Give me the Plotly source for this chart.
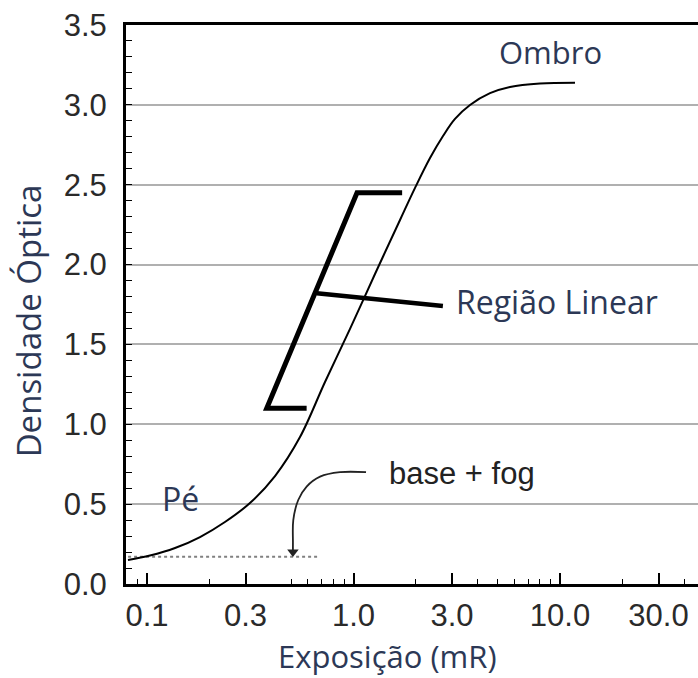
import math
import plotly.graph_objects as go

# ---- data ----
exposure = [0.0809, 0.1034, 0.1367, 0.1806, 0.2385, 0.3152, 0.4168, 0.5507, 0.7278,
            0.9618, 1.2708, 1.6797, 1.986, 2.347, 2.713, 3.101, 3.666, 4.581, 5.727,
            8.000, 11.82]
density = [0.150, 0.178, 0.225, 0.294, 0.388, 0.507, 0.676, 0.920, 1.265,
           1.597, 1.941, 2.279, 2.480, 2.667, 2.805, 2.912, 2.999, 3.073, 3.112,
           3.134, 3.139]

# bracket marking the linear region
bracket_x = [1.72, 1.04, 0.38, 0.593]
bracket_y = [2.45, 2.45, 1.10, 1.10]
pointer_x = [0.664, 2.71]
pointer_y = [1.82, 1.74]

# base + fog level
fog_x = [0.081, 0.689]
fog_y = [0.17, 0.17]

# curved arrow towards base + fog
arrow_x = [1.15, 0.86, 0.689, 0.593, 0.54, 0.511, 0.509, 0.509]
arrow_y = [0.70, 0.70, 0.672, 0.61, 0.526, 0.40, 0.26, 0.19]

x_ticks = [0.1, 0.3, 1.0, 3.0, 10.0, 30.0]
x_ticktext = ["0.1", "0.3", "1.0", "3.0", "10.0", "30.0"]
x_minor = [0.09, 0.2, 0.5, 0.6, 0.7, 0.8, 0.9, 2, 4, 5, 6, 7, 8, 9, 20, 40]
y_ticks = [0.0, 0.5, 1.0, 1.5, 2.0, 2.5, 3.0, 3.5]
y_ticktext = ["0.0", "0.5", "1.0", "1.5", "2.0", "2.5", "3.0", "3.5"]

# gaps in the grid lines (y, x_from, x_to)
grid_gaps = [(0.5, 0.1, 0.233), (2.0, 0.563, 0.995), (1.5, 0.386, 0.63)]

TITLE_COLOR = "#2c3856"
TEXT_FONT = "Open Sans"

fig = go.Figure()

fig.add_trace(go.Scatter(x=fog_x, y=fog_y, mode="lines",
                         line=dict(color="#808080", width=2, dash="dot"),
                         hoverinfo="skip"))
fig.add_trace(go.Scatter(x=exposure, y=density, mode="lines", line_shape="spline",
                         line=dict(color="black", width=2), hoverinfo="skip"))
fig.add_trace(go.Scatter(x=bracket_x, y=bracket_y, mode="lines",
                         line=dict(color="black", width=5), hoverinfo="skip"))
fig.add_trace(go.Scatter(x=pointer_x, y=pointer_y, mode="lines",
                         line=dict(color="black", width=4.5), hoverinfo="skip"))
fig.add_trace(go.Scatter(x=arrow_x, y=arrow_y, mode="lines", line_shape="spline",
                         line=dict(color="#222222", width=1.8), hoverinfo="skip"))
fig.add_trace(go.Scatter(x=[arrow_x[-1]], y=[fog_y[0] + 0.03], mode="markers",
                         marker=dict(symbol="triangle-down", size=10, color="#222222"),
                         hoverinfo="skip"))

for gy, gx0, gx1 in grid_gaps:
    fig.add_shape(type="rect", xref="x", yref="y", x0=math.log10(gx0), x1=math.log10(gx1),
                  y0=gy - 0.02, y1=gy + 0.02, fillcolor="white", line_width=0, layer="between")

def add_text(text, x, y, size, color, font=TEXT_FONT, xanchor="center"):
    fig.add_annotation(text=text, x=math.log10(x), y=y, xref="x", yref="y",
                       showarrow=False, xanchor=xanchor, yanchor="middle",
                       font=dict(family=font, size=size, color=color))

add_text("Ombro", 8.95, 3.33, 31, TITLE_COLOR)
add_text("Região Linear", 3.08, 1.77, 32, TITLE_COLOR, xanchor="left")
add_text("Pé", 0.146, 0.535, 32, TITLE_COLOR)
add_text("base + fog", 1.45, 0.69, 31, "#222222", font="Liberation Sans", xanchor="left")

fig.add_annotation(text="Exposição (mR)", xref="paper", yref="paper", x=0.458, y=-0.128,
                   showarrow=False, xanchor="center", yanchor="middle",
                   font=dict(family=TEXT_FONT, size=31, color=TITLE_COLOR))
fig.add_annotation(text="Densidade Óptica", xref="paper", yref="paper", x=-0.169, y=0.4705,
                   showarrow=False, xanchor="center", yanchor="middle", textangle=-90,
                   font=dict(family=TEXT_FONT, size=33, color=TITLE_COLOR))

fig.update_layout(
    width=698, height=678,
    margin=dict(l=126, r=0, t=25, b=94),
    paper_bgcolor="white", plot_bgcolor="white",
    showlegend=False,
    xaxis=dict(type="log", range=[-1.1017, 1.6683],
               tickvals=x_ticks, ticktext=x_ticktext,
               ticks="inside", ticklen=11, tickwidth=1.5, tickcolor="black",
               showgrid=False, zeroline=False,
               showline=True, linecolor="black", linewidth=3, mirror=True,
               tickfont=dict(family="Liberation Sans", size=31, color="#2a2a2a"),
               ticklabelstandoff=2,
               minor=dict(tickvals=x_minor, ticks="inside", ticklen=5, tickwidth=1.2,
                          tickcolor="black", showgrid=False)),
    yaxis=dict(range=[0, 3.5], tickvals=y_ticks, ticktext=y_ticktext,
               ticks="inside", ticklen=6, tickwidth=1.2, tickcolor="black",
               showgrid=True, gridcolor="#b0b0b0", gridwidth=1.6,
               zeroline=False, showline=True, linecolor="black", linewidth=3, mirror=False,
               tickfont=dict(family="Liberation Sans", size=31, color="#2a2a2a"),
               ticklabelstandoff=10,
               minor=dict(dtick=0.1, ticks="inside", ticklen=6, tickwidth=1.2,
                          tickcolor="black", showgrid=False)),
)

fig.write_html("out.html")
